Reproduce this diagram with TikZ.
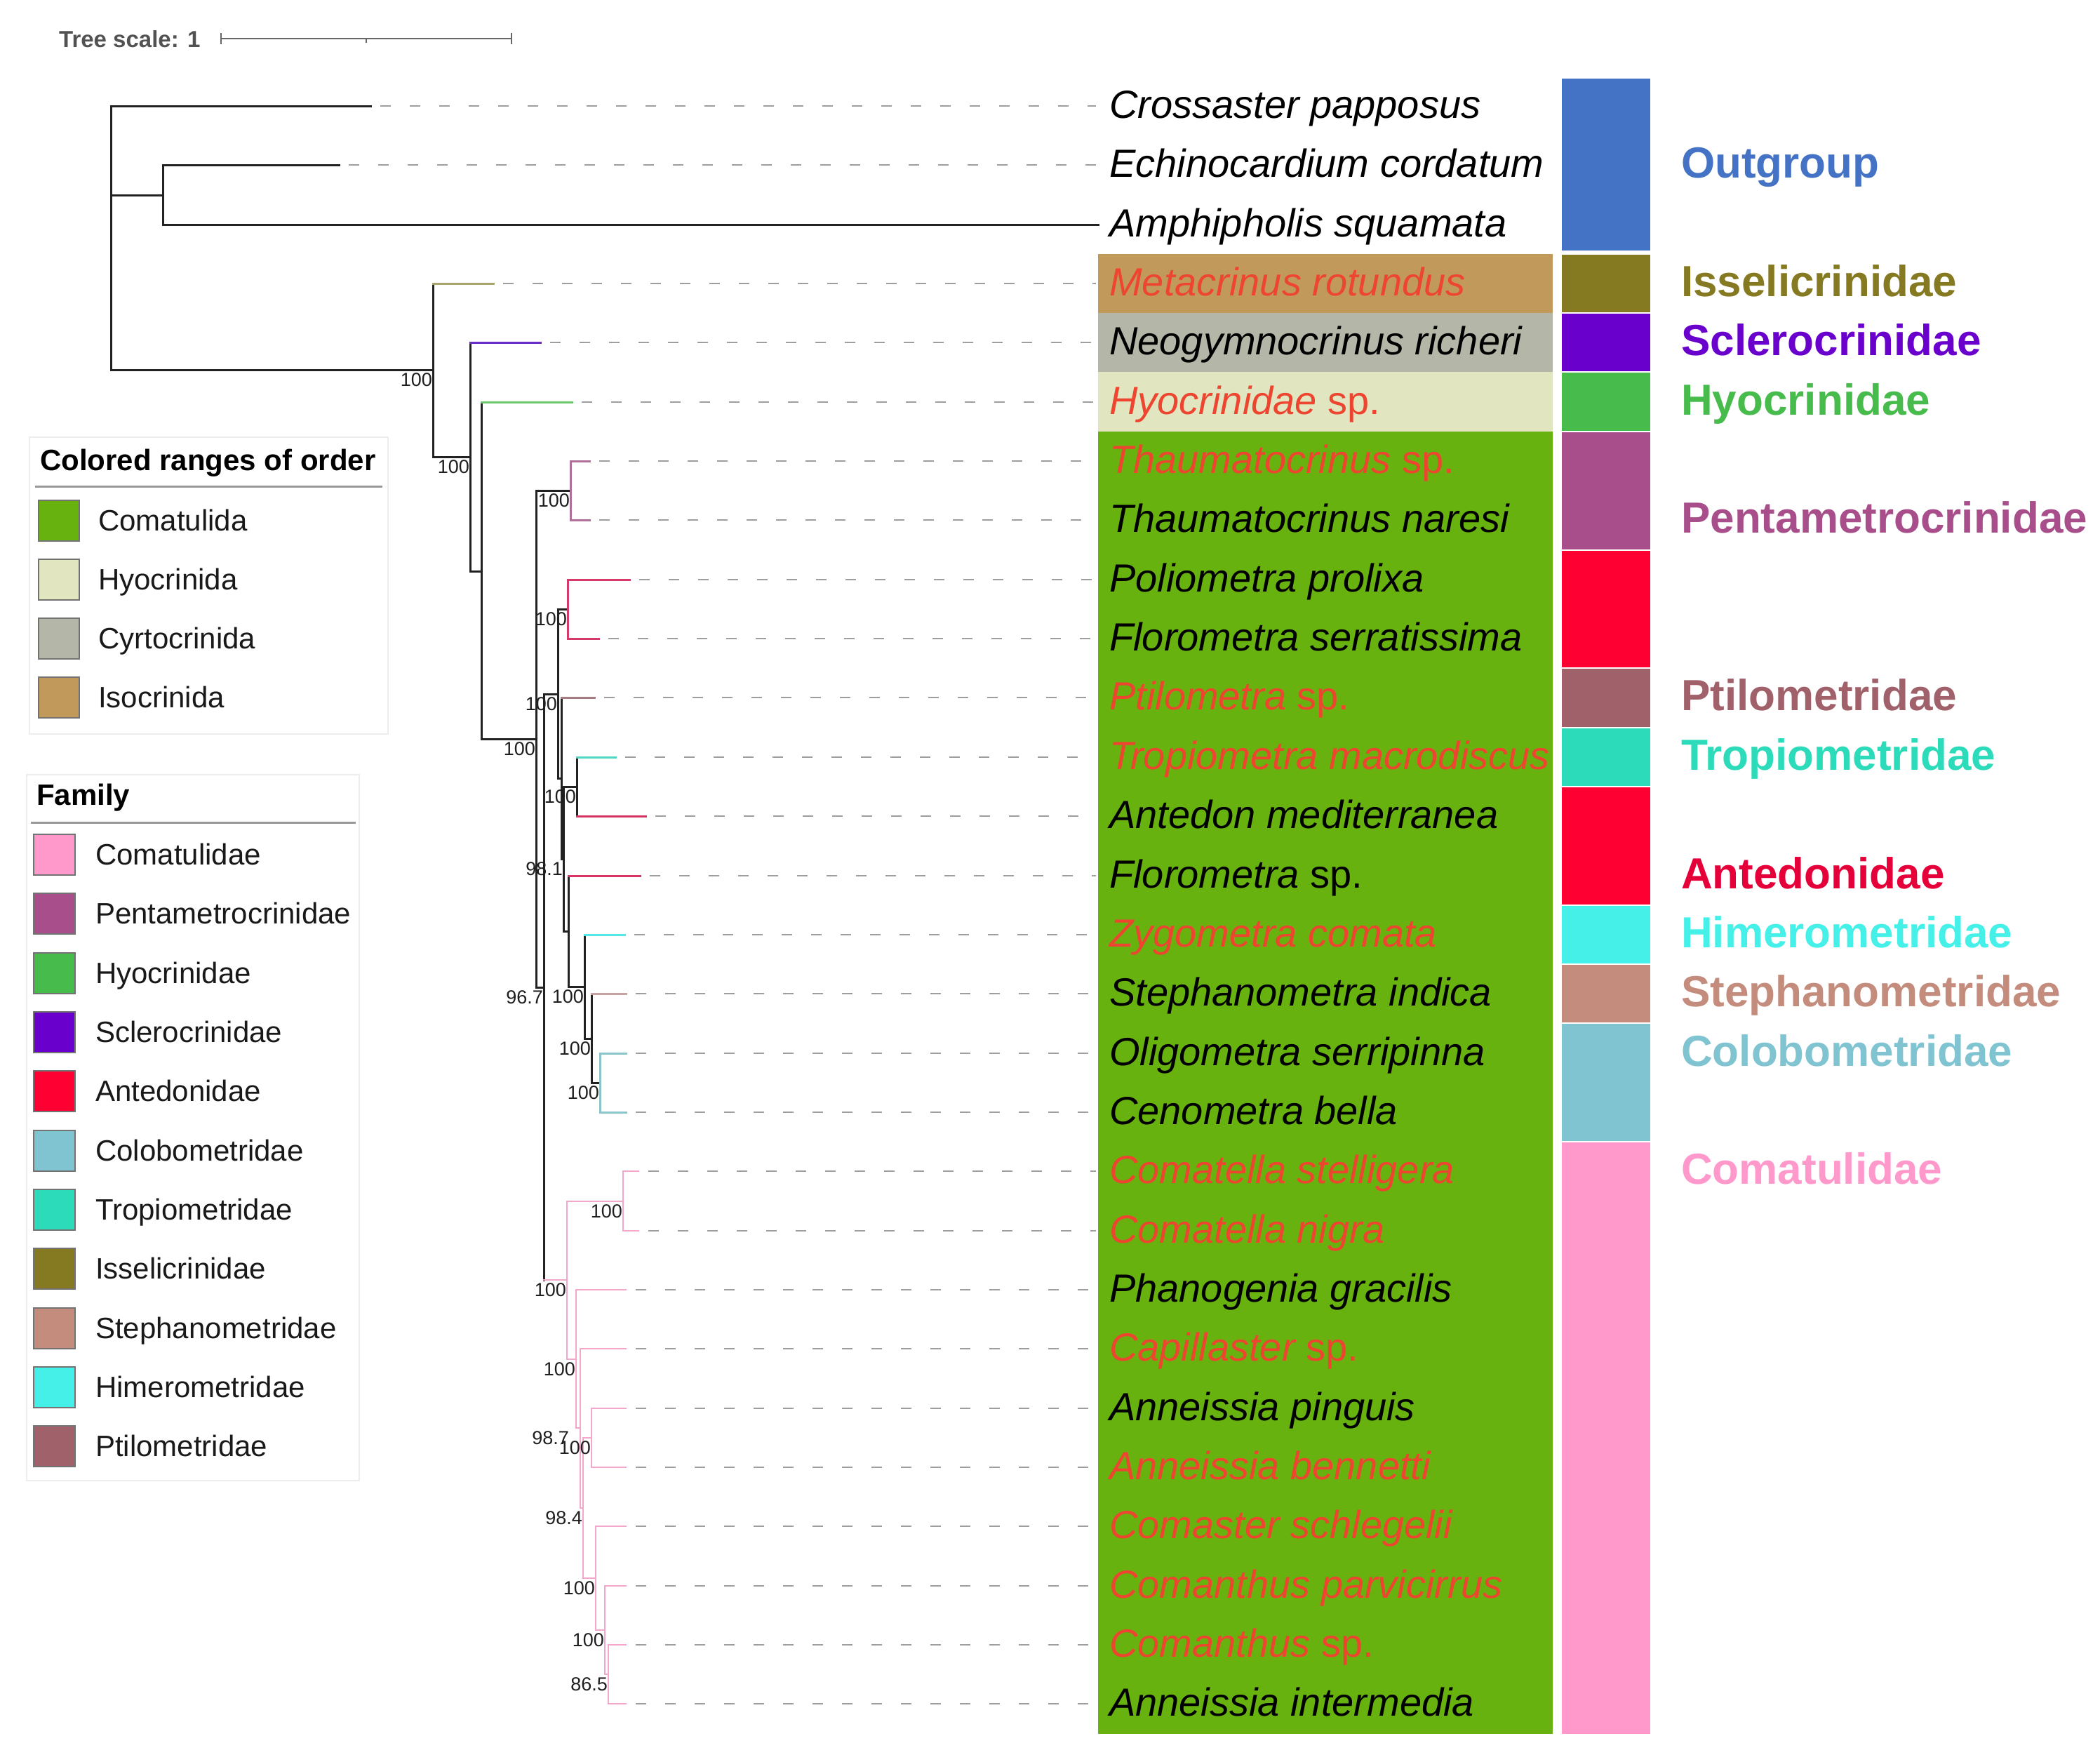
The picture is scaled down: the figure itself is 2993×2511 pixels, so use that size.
\documentclass[tikz,border=0pt]{standalone}
\usepackage{fontspec}
\setmainfont{Liberation Sans}
\definecolor{outg}{HTML}{4472C4}
\definecolor{issel}{HTML}{857A22}
\definecolor{scler}{HTML}{6A00CC}
\definecolor{hyocf}{HTML}{47BB4B}
\definecolor{penta}{HTML}{A84F8B}
\definecolor{anted}{HTML}{FF0033}
\definecolor{antedtxt}{HTML}{E6003A}
\definecolor{ptilo}{HTML}{A0616A}
\definecolor{tropi}{HTML}{2BDBB9}
\definecolor{himer}{HTML}{45F0E8}
\definecolor{steph}{HTML}{C48C7C}
\definecolor{colob}{HTML}{80C4D2}
\definecolor{comtl}{HTML}{FF99CC}
\definecolor{ocomat}{HTML}{68B20F}
\definecolor{ohyoc}{HTML}{E1E6C1}
\definecolor{ocyrt}{HTML}{B4B6A8}
\definecolor{oisoc}{HTML}{C19A5B}
\definecolor{spred}{HTML}{EE4530}
\definecolor{brIssel}{HTML}{A6A36B}
\definecolor{brScler}{HTML}{6B2BC9}
\definecolor{brHyoc}{HTML}{6CC66C}
\definecolor{brPenta}{HTML}{B0709A}
\definecolor{brPol}{HTML}{D5396A}
\definecolor{brPtilo}{HTML}{A87A82}
\definecolor{brTropi}{HTML}{4ED8C4}
\definecolor{brAnted}{HTML}{D73463}
\definecolor{brHimer}{HTML}{55E6E6}
\definecolor{brSteph}{HTML}{C9A3A3}
\definecolor{brColob}{HTML}{8CC4CC}
\definecolor{brComat}{HTML}{F2A7CB}
\definecolor{blk}{HTML}{222222}
\begin{document}
\begin{tikzpicture}[x=1pt,y=-1pt,
  br/.style={line width=3pt,line cap=rect,draw=blk},
  cbr/.style={line width=3pt,line cap=rect,draw=#1},
  pbr/.style={line width=2.5pt,line cap=rect,draw=brComat},
  dsh/.style={line width=2.5pt,draw=black!38,dash pattern=on 15pt off 27pt},
  bs/.style={font=\fontsize{27}{30}\selectfont,text=black!88,anchor=north east,inner sep=0pt,xshift=-1pt,yshift=-4pt},
  spl/.style={font=\fontsize{56}{60}\selectfont,anchor=base west,inner sep=0pt},
  faml/.style={font=\fontsize{62}{66}\selectfont\bfseries,anchor=base west,inner sep=0pt},
  legt/.style={font=\fontsize{42}{46}\selectfont\bfseries,anchor=base west,inner sep=0pt},
  legi/.style={font=\fontsize{42}{46}\selectfont,anchor=base west,inner sep=0pt,text=black!90},
  swatch/.style={draw=black!55,line width=2pt},
  legbox/.style={draw=black!7,line width=2pt,fill=white}
]
\useasboundingbox (0,0) rectangle (2993,2511);
\fill[white] (0,0) rectangle (2993,2511);

% ---------- tree scale ----------
\node[font=\fontsize{33}{36}\selectfont\bfseries,text=black!68,anchor=base west,inner sep=0pt] (tscale) at (84,67) {Tree scale: 1};
\coordinate (tsA) at (315,55);
\coordinate (tsB) at (729,55);
\coordinate (tsM) at (522,55);
\draw[black!60,line width=2.5pt] (tsA) -- (tsB);
\draw[black!60,line width=2.5pt] ([yshift=8pt]tsA) -- ([yshift=-8pt]tsA);
\draw[black!60,line width=2.5pt] ([yshift=8pt]tsB) -- ([yshift=-8pt]tsB);
\draw[black!60,line width=2pt] (tsM) -- ([yshift=-6pt]tsM);

% ---------- order colored ranges ----------
\fill[oisoc] (1565,362) rectangle (2213,446);
\fill[ocyrt] (1565,446) rectangle (2213,530);
\fill[ohyoc] (1565,530) rectangle (2213,615);
\fill[ocomat] (1565,615) rectangle (2213,2471);

% ---------- family strip ----------
\fill[outg]  (2226,112) rectangle (2352,357);
\fill[issel] (2226,363) rectangle (2352,445);
\fill[scler] (2226,447) rectangle (2352,529);
\fill[hyocf] (2226,531) rectangle (2352,614);
\fill[penta] (2226,616) rectangle (2352,783);
\fill[anted] (2226,785) rectangle (2352,951);
\fill[ptilo] (2226,953) rectangle (2352,1036);
\fill[tropi] (2226,1038) rectangle (2352,1120);
\fill[anted] (2226,1122) rectangle (2352,1289);
\fill[himer] (2226,1291) rectangle (2352,1373);
\fill[steph] (2226,1375) rectangle (2352,1457);
\fill[colob] (2226,1459) rectangle (2352,1626);
\fill[comtl] (2226,1628) rectangle (2352,2471);

% ---------- coordinates: leaves ----------
\coordinate (L1) at (528,151);
\coordinate (L2) at (483,235);
\coordinate (L3) at (1565,320);
\coordinate (L4) at (703,404);
\coordinate (L5) at (770,488);
\coordinate (L6) at (815,573);
\coordinate (L7) at (840,657);
\coordinate (L8) at (840,741);
\coordinate (L9) at (897,826);
\coordinate (L10) at (853,910);
\coordinate (L11) at (847,994);
\coordinate (L12) at (877,1079);
\coordinate (L13) at (920,1163);
\coordinate (L14) at (912,1248);
\coordinate (L15) at (890,1332);
\coordinate (L16) at (892,1416);
\coordinate (L17) at (892,1501);
\coordinate (L18) at (892,1585);
\coordinate (L19) at (910,1669);
\coordinate (L20) at (910,1754);
\coordinate (L21) at (892,1838);
\coordinate (L22) at (892,1922);
\coordinate (L23) at (892,2007);
\coordinate (L24) at (892,2091);
\coordinate (L25) at (892,2175);
\coordinate (L26) at (892,2260);
\coordinate (L27) at (892,2344);
\coordinate (L28) at (892,2428);
% internal nodes
\coordinate (R) at (158,151);
\coordinate (ES) at (232,278);
\coordinate (C0) at (617,527);
\coordinate (C1) at (670,651);
\coordinate (C2) at (686,814);
\coordinate (C3) at (764,1053);
\coordinate (T) at (813,699);
\coordinate (N775) at (775,1407);
\coordinate (N795) at (795,989);
\coordinate (PL) at (809,868);
\coordinate (N800) at (800,1109);
\coordinate (N803) at (803,1224);
\coordinate (NTA) at (822,1121);
\coordinate (N810) at (810,1327);
\coordinate (N833) at (833,1406);
\coordinate (N843) at (843,1480);
\coordinate (N855) at (855,1543);
\coordinate (P1) at (808,1824);
\coordinate (CM) at (888,1712);
\coordinate (P2) at (821,1937);
\coordinate (P3) at (827,2035);
\coordinate (PIN) at (843,2049);
\coordinate (P4) at (831,2149);
\coordinate (P5) at (849,2249);
\coordinate (P6) at (862,2323);
\coordinate (P7) at (867,2386);
\coordinate (DE) at (1562,0);

% ---------- dashed leader lines ----------
\foreach \l in {L1,L2,L4,L5,L6,L7,L8,L9,L10,L11,L12,L13,L14,L15,L16,L17,L18,L19,L20,L21,L22,L23,L24,L25,L26,L27,L28}
  \draw[dsh] ([xshift=14pt]\l) -- (\l -| DE);

% ---------- black backbone ----------
\draw[br] (R) -- (R |- C0);
\draw[br] (R |- L1) -- (L1);
\draw[br] (R |- ES) -- (ES);
\draw[br] (ES |- L2) -- (ES |- L3);
\draw[br] (ES |- L2) -- (L2);
\draw[br] (ES |- L3) -- (L3);
\draw[br] (R |- C0) -- (C0);
\draw[br] (C0 |- L4) -- (C0 |- C1);
\draw[br] (C0 |- C1) -- (C1);
\draw[br] (C1 |- L5) -- (C1 |- C2);
\draw[br] (C1 |- C2) -- (C2);
\draw[br] (C2 |- L6) -- (C2 |- C3);
\draw[br] (C2 |- C3) -- (C3);
\draw[br] (C3 |- T) -- (C3 |- N775);
\draw[br] (C3 |- T) -- (T);
\draw[br] (C3 |- N775) -- (N775);
\draw[br] (N775 |- N795) -- (N775 |- P1);
\draw[br] (N775 |- N795) -- (N795);
\draw[br] (N795 |- PL) -- (N795 |- N800);
\draw[br] (N795 |- PL) -- (PL);
\draw[br] (N795 |- N800) -- (N800);
\draw[br] (N800 |- L11) -- (N800 |- N803);
\draw[br] (N800 |- N803) -- (N803);
\draw[br] (N803 |- NTA) -- (N803 |- N810);
\draw[br] (N803 |- NTA) -- (NTA);
\draw[br] (N803 |- N810) -- (N810);
\draw[br] (NTA |- L12) -- (NTA |- L13);
\draw[br] (N810 |- L14) -- (N810 |- N833);
\draw[br] (N810 |- N833) -- (N833);
\draw[br] (N833 |- L15) -- (N833 |- N843);
\draw[br] (N833 |- N843) -- (N843);
\draw[br] (N843 |- L16) -- (N843 |- N855);
\draw[br] (N843 |- N855) -- (N855);

% ---------- coloured branches ----------
\draw[cbr=brIssel] (C0 |- L4) -- (L4);
\draw[cbr=brScler] (C1 |- L5) -- (L5);
\draw[cbr=brHyoc] (C2 |- L6) -- (L6);
\draw[cbr=brPenta] (T |- L7) -- (T |- L8);
\draw[cbr=brPenta] (T |- L7) -- (L7);
\draw[cbr=brPenta] (T |- L8) -- (L8);
\draw[cbr=brPol] (PL |- L9) -- (PL |- L10);
\draw[cbr=brPol] (PL |- L9) -- (L9);
\draw[cbr=brPol] (PL |- L10) -- (L10);
\draw[cbr=brPtilo] (N800 |- L11) -- (L11);
\draw[cbr=brTropi] (NTA |- L12) -- (L12);
\draw[cbr=brAnted] (NTA |- L13) -- (L13);
\draw[cbr=brAnted] (N810 |- L14) -- (L14);
\draw[cbr=brHimer] (N833 |- L15) -- (L15);
\draw[cbr=brSteph] (N843 |- L16) -- (L16);
\draw[cbr=brColob] (N855 |- L17) -- (N855 |- L18);
\draw[cbr=brColob] (N855 |- L17) -- (L17);
\draw[cbr=brColob] (N855 |- L18) -- (L18);

% ---------- Comatulidae (pink) ----------
\draw[pbr] (N775 |- P1) -- (P1);
\draw[pbr] (P1 |- CM) -- (P1 |- P2);
\draw[pbr] (P1 |- CM) -- (CM);
\draw[pbr] (P1 |- P2) -- (P2);
\draw[pbr] (CM |- L19) -- (CM |- L20);
\draw[pbr] (CM |- L19) -- (L19);
\draw[pbr] (CM |- L20) -- (L20);
\draw[pbr] (P2 |- L21) -- (P2 |- P3);
\draw[pbr] (P2 |- L21) -- (L21);
\draw[pbr] (P2 |- P3) -- (P3);
\draw[pbr] (P3 |- L22) -- (P3 |- P4);
\draw[pbr] (P3 |- L22) -- (L22);
\draw[pbr] (P3 |- P4) -- (P4);
\draw[pbr] (P4 |- PIN) -- (P4 |- P5);
\draw[pbr] (P4 |- PIN) -- (PIN);
\draw[pbr] (P4 |- P5) -- (P5);
\draw[pbr] (PIN |- L23) -- (PIN |- L24);
\draw[pbr] (PIN |- L23) -- (L23);
\draw[pbr] (PIN |- L24) -- (L24);
\draw[pbr] (P5 |- L25) -- (P5 |- P6);
\draw[pbr] (P5 |- L25) -- (L25);
\draw[pbr] (P5 |- P6) -- (P6);
\draw[pbr] (P6 |- L26) -- (P6 |- P7);
\draw[pbr] (P6 |- L26) -- (L26);
\draw[pbr] (P6 |- P7) -- (P7);
\draw[pbr] (P7 |- L27) -- (P7 |- L28);
\draw[pbr] (P7 |- L27) -- (L27);
\draw[pbr] (P7 |- L28) -- (L28);

% ---------- bootstrap labels ----------
\node[bs] (bC0) at (C0) {100};
\node[bs] (bC1) at (C1) {100};
\node[bs] (bC3) at (C3) {100};
\node[bs] (bT) at (T) {100};
\node[bs] (bPL) at (PL) {100};
\node[bs] (bN795) at (N795) {100};
\node[bs] (bNTA) at (NTA) {100};
\node[bs] (bN803) at (N803) {98.1};
\node[bs] (bN775) at (N775) {96.7};
\node[bs] (bN833) at (N833) {100};
\node[bs] (bN843) at (N843) {100};
\node[bs] (bN855) at (N855) {100};
\node[bs] (bCM) at (CM) {100};
\node[bs] (bP1) at (P1) {100};
\node[bs] (bP2) at (P2) {100};
\node[bs,xshift=-15pt] (bP3) at (P3) {98.7};
\node[bs] (bPIN) at (PIN) {100};
\node[bs] (bP4) at (P4) {98.4};
\node[bs] (bP5) at (P5) {100};
\node[bs] (bP6) at (P6) {100};
\node[bs] (bP7) at (P7) {86.5};

% ---------- species labels ----------
\node[spl] (s1) at (1581,168) {\itshape Crossaster papposus};
\node[spl] (s2) at (1581,252) {\itshape Echinocardium cordatum};
\node[spl] (s3) at (1581,337) {\itshape Amphipholis squamata};
\node[spl,text=spred] (s4) at (1581,421) {\itshape Metacrinus rotundus};
\node[spl] (s5) at (1581,505) {\itshape Neogymnocrinus richeri};
\node[spl,text=spred] (s6) at (1581,590) {{\itshape Hyocrinidae} sp.};
\node[spl,text=spred] (s7) at (1581,674) {{\itshape Thaumatocrinus} sp.};
\node[spl] (s8) at (1581,758) {\itshape Thaumatocrinus naresi};
\node[spl] (s9) at (1581,843) {\itshape Poliometra prolixa};
\node[spl] (s10) at (1581,927) {\itshape Florometra serratissima};
\node[spl,text=spred] (s11) at (1581,1011) {{\itshape Ptilometra} sp.};
\node[spl,text=spred] (s12) at (1581,1096) {\itshape Tropiometra macrodiscus};
\node[spl] (s13) at (1581,1180) {\itshape Antedon mediterranea};
\node[spl] (s14) at (1581,1265) {{\itshape Florometra} sp.};
\node[spl,text=spred] (s15) at (1581,1349) {\itshape Zygometra comata};
\node[spl] (s16) at (1581,1433) {\itshape Stephanometra indica};
\node[spl] (s17) at (1581,1518) {\itshape Oligometra serripinna};
\node[spl] (s18) at (1581,1602) {\itshape Cenometra bella};
\node[spl,text=spred] (s19) at (1581,1686) {\itshape Comatella stelligera};
\node[spl,text=spred] (s20) at (1581,1771) {\itshape Comatella nigra};
\node[spl] (s21) at (1581,1855) {\itshape Phanogenia gracilis};
\node[spl,text=spred] (s22) at (1581,1939) {{\itshape Capillaster} sp.};
\node[spl] (s23) at (1581,2024) {\itshape Anneissia pinguis};
\node[spl,text=spred] (s24) at (1581,2108) {\itshape Anneissia bennetti};
\node[spl,text=spred] (s25) at (1581,2192) {\itshape Comaster schlegelii};
\node[spl,text=spred] (s26) at (1581,2277) {\itshape Comanthus parvicirrus};
\node[spl,text=spred] (s27) at (1581,2361) {{\itshape Comanthus} sp.};
\node[spl] (s28) at (1581,2445) {\itshape Anneissia intermedia};

% ---------- family labels ----------
\node[faml,text=outg] (f1) at (2396,253) {Outgroup};
\node[faml,text=issel] (f2) at (2396,422) {Isselicrinidae};
\node[faml,text=scler] (f3) at (2396,506) {Sclerocrinidae};
\node[faml,text=hyocf] (f4) at (2396,591) {Hyocrinidae};
\node[faml,text=penta] (f5) at (2396,759) {Pentametrocrinidae};
\node[faml,text=ptilo] (f6) at (2396,1012) {Ptilometridae};
\node[faml,text=tropi] (f7) at (2396,1097) {Tropiometridae};
\node[faml,text=antedtxt] (f8) at (2396,1266) {Antedonidae};
\node[faml,text=himer] (f9) at (2396,1350) {Himerometridae};
\node[faml,text=steph] (f10) at (2396,1434) {Stephanometridae};
\node[faml,text=colob] (f11) at (2396,1519) {Colobometridae};
\node[faml,text=comtl] (f12) at (2396,1687) {Comatulidae};

% ---------- legend 1: order ----------
\draw[legbox] (42,623) rectangle (553,1046);
\node[legt] (lo) at (57,670) {Colored ranges of order};
\coordinate (lo1) at (50,693);
\coordinate (lo2) at (545,693);
\draw[black!40,line width=3pt] (lo1) -- (lo2);
\foreach \yy/\cc/\tt [count=\i] in {742/ocomat/Comatulida,826/ohyoc/Hyocrinida,910/ocyrt/Cyrtocrinida,994/oisoc/Isocrinida}{
  \fill[\cc] (55,\yy-29) rectangle (113,\yy+29);
  \draw[swatch] (55,\yy-29) rectangle (113,\yy+29);
  \node[legi] (lo-\i) at (140,\yy+14) {\tt};
}

% ---------- legend 2: family ----------
\draw[legbox] (38,1104) rectangle (512,2110);
\node[legt] (lf) at (52,1147) {Family};
\coordinate (lf1) at (44,1172);
\coordinate (lf2) at (507,1172);
\draw[black!40,line width=3pt] (lf1) -- (lf2);
\foreach \yy/\cc/\tt [count=\i] in {1218/comtl/Comatulidae,1302/penta/Pentametrocrinidae,1387/hyocf/Hyocrinidae,1471/scler/Sclerocrinidae,1555/anted/Antedonidae,1640/colob/Colobometridae,1724/tropi/Tropiometridae,1808/issel/Isselicrinidae,1893/steph/Stephanometridae,1977/himer/Himerometridae,2061/ptilo/Ptilometridae}{
  \fill[\cc] (48,\yy-29) rectangle (107,\yy+29);
  \draw[swatch] (48,\yy-29) rectangle (107,\yy+29);
  \node[legi] (lf-\i) at (136,\yy+14) {\tt};
}
\end{tikzpicture}
\end{document}
